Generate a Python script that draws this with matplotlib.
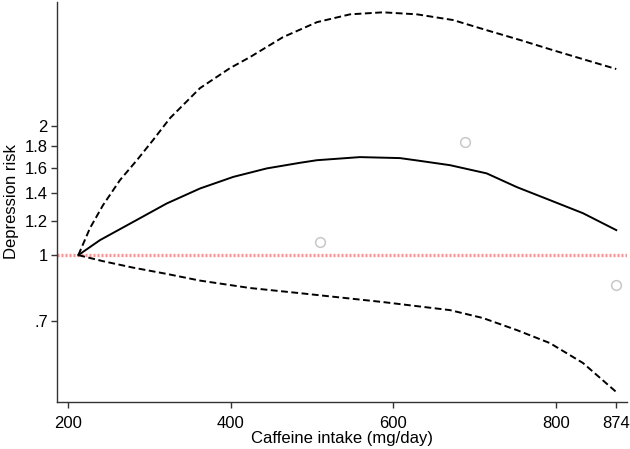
import numpy as np
import matplotlib.pyplot as plt

plt.rcParams["font.family"] = ["Liberation Sans", "DejaVu Sans"]

# dose-response curve
dose = [212.7, 239.3, 280.3, 321.3, 362.3, 403.2, 444.3, 485.2, 506.1, 558.9,
        608.1, 632.7, 669.6, 714.7, 752.0, 792.5, 833.0, 874]
rr = [1.0, 1.084, 1.196, 1.320, 1.431, 1.523, 1.594, 1.643, 1.666, 1.694,
      1.685, 1.660, 1.622, 1.552, 1.441, 1.344, 1.253, 1.144]

upper_dose = [212.7, 227.0, 243.0, 263.9, 284.8, 304.5, 325.4, 362.3, 399.1,
              423.7, 464.3, 506.1, 546.7, 587.2, 629.0, 673.3, 715.1, 755.6,
              796.2, 838.0, 874]
upper = [1.0, 1.156, 1.308, 1.497, 1.667, 1.856, 2.089, 2.455, 2.733,
         2.900, 3.229, 3.50, 3.65, 3.69, 3.65, 3.54, 3.35, 3.18,
         3.01, 2.85, 2.72]

lower_dose = [212.7, 243.0, 280.0, 320.0, 362.3, 423.7, 485.2, 587.2, 669.6,
              710.1, 752.0, 792.5, 833.0, 874]
lower = [1.0, 0.968, 0.935, 0.905, 0.872, 0.838, 0.815, 0.777, 0.744,
         0.713, 0.668, 0.623, 0.560, 0.479]

# study-level points
pt_dose = [510, 688, 874]
pt_rr = [1.072, 1.84, 0.851]

xticks = [200, 400, 600, 800, 874]
yticks = [0.7, 1, 1.2, 1.4, 1.6, 1.8, 2]
yticklabels = [".7", "1", "1.2", "1.4", "1.6", "1.8", "2"]

fig = plt.figure(figsize=(6.3, 4.49), dpi=100)
ax = fig.add_axes([0.0905, 0.1047, 0.9045, 0.8908])

# reference line at RR = 1
ax.axhline(1, color="#ff9090", linestyle=(0, (0.6, 0.6)), linewidth=2.4, zorder=1)
ax.plot(upper_dose, upper, color="black", linestyle=(0, (3.5, 1.8)), linewidth=1.4)
ax.plot(lower_dose, lower, color="black", linestyle=(0, (3.5, 1.8)), linewidth=1.4)
ax.plot(dose, rr, color="black", linewidth=1.4)
ax.plot(pt_dose, pt_rr, linestyle="none", marker="o", markersize=7,
        markerfacecolor="none", markeredgecolor="#c8c8c8", markeredgewidth=1.1)

ax.set_yscale("log")
ax.set_xlim(186.5, 887)
ax.set_ylim(0.454, 3.9)
ax.set_xticks(xticks)
ax.set_xticklabels([str(v) for v in xticks])
ax.set_yticks(yticks)
ax.set_yticklabels(yticklabels)
ax.minorticks_off()

ax.spines["top"].set_visible(False)
ax.spines["right"].set_visible(False)
for s in ("left", "bottom"):
    ax.spines[s].set_color("#333333")
    ax.spines[s].set_linewidth(1.0)
ax.tick_params(axis="both", length=4.5, width=1, color="#333333", labelsize=12)
ax.tick_params(axis="x", pad=5.5)
ax.tick_params(axis="y", pad=2)

ax.set_xlabel("Caffeine intake (mg/day)", fontsize=12, labelpad=0)
ax.set_ylabel("Depression risk", fontsize=12, labelpad=4)

fig.savefig("out.png", dpi=100)
